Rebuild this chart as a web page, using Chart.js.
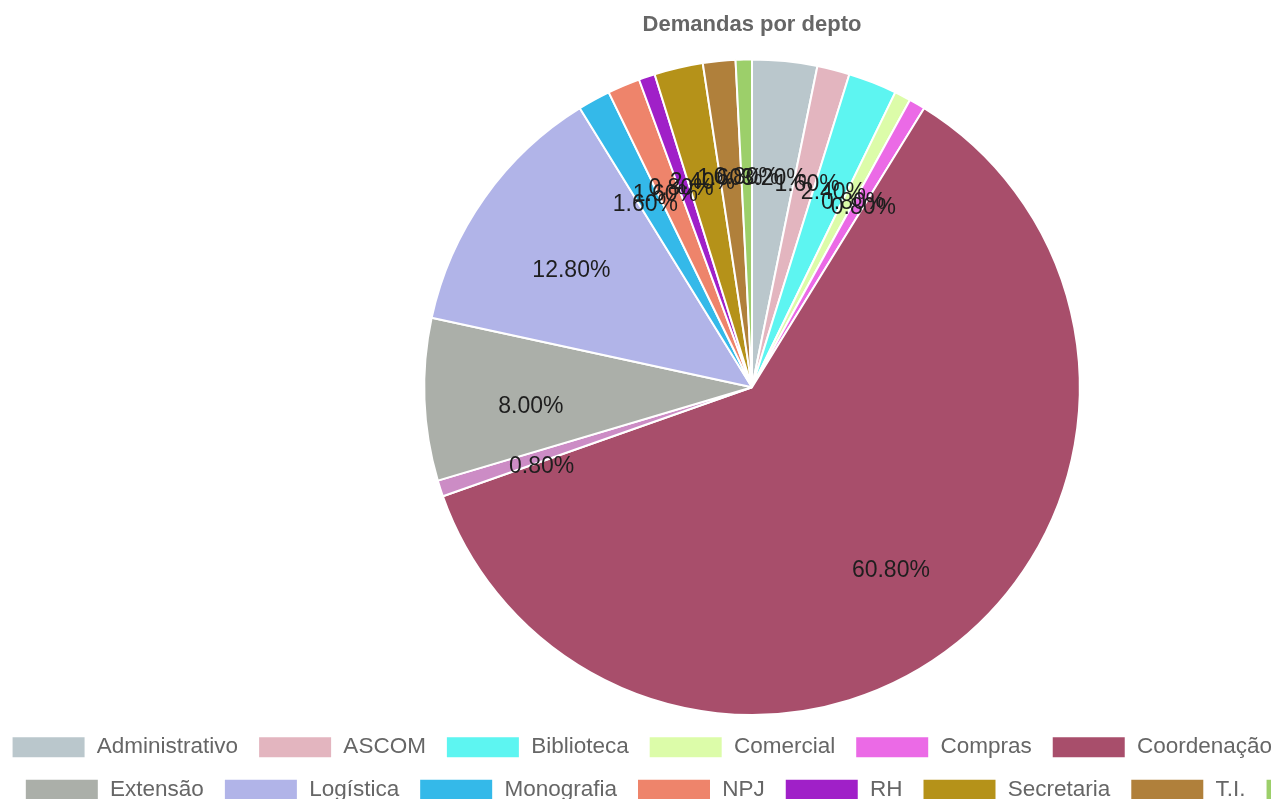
<!DOCTYPE html>
<html>
<head>
<meta charset="utf-8">
<script src="https://cdn.jsdelivr.net/npm/chart.js"></script>
<style>
body {
	margin: 0;
	background: #fff;
	overflow: hidden;
}
.card1 {
	position: relative;
	width: 1544px;
	height: 811px;
	margin-left: -20px;
}
</style>
</head>
<body>
<div class="card1">
<canvas id="depto_graph"></canvas>
</div>
<script>
var labels = ["Administrativo", "ASCOM", "Biblioteca", "Comercial", "Compras", "Coordenação", "Engenharia", "Extensão", "Logística", "Monografia", "NPJ", "RH", "Secretaria", "T.I.", "Vice-Reitoria"];
var demandas = [4, 2, 3, 1, 1, 76, 1, 10, 16, 2, 2, 1, 3, 2, 1];
var cores = ["#bac7cc", "#e3b5bf", "#5df5f1", "#dcfca9", "#eb6ae6", "#a84e6b", "#cc8cc5", "#abafa9", "#b1b4e8", "#34b9e9", "#ee846b", "#a020c8", "#b59219", "#b0803b", "#9ccf6a"];

// percent labels inside slices
var percentLabels = {
	id: 'percentLabels',
	afterDatasetsDraw: function(chart) {
		var ctx = chart.ctx;
		var meta = chart.getDatasetMeta(0);
		var total = demandas.reduce(function(a, b) { return a + b; }, 0);
		ctx.save();
		ctx.font = "23px 'Liberation Sans', Arial, sans-serif";
		ctx.fillStyle = "#1e1e1e";
		ctx.textAlign = "center";
		ctx.textBaseline = "top";
		meta.data.forEach(function(arc, i) {
			var p = arc.getProps(['x', 'y', 'startAngle', 'endAngle', 'outerRadius'], true);
			var mid = (p.startAngle + p.endAngle) / 2;
			var r = p.outerRadius * 0.675;
			var txt = (demandas[i] / total * 100).toFixed(2) + "%";
			ctx.fillText(txt, p.x + Math.cos(mid) * r, p.y + Math.sin(mid) * r);
		});
		ctx.restore();
	}
};

var ctx = document.getElementById('depto_graph').getContext('2d');
var chart = new Chart(ctx, {
	type: 'pie',
	data: {
		labels: labels,
		datasets: [{
			label: "Demandas",
			data: demandas,
			backgroundColor: cores,
			borderColor: "#fff",
			borderWidth: 2
		}]
	},
	options: {
		responsive: true,
		maintainAspectRatio: false,
		animation: false,
		plugins: {
			title: {
				display: true,
				text: "Demandas por depto",
				color: "#666",
				font: { family: "'Liberation Sans', Arial, sans-serif", size: 22, weight: 'bold' },
				padding: { top: 12, bottom: 20 }
			},
			legend: {
				display: true,
				position: "bottom",
				labels: {
					boxWidth: 74,
					boxHeight: 22,
					padding: 20,
					color: "#666",
					font: { family: "'Liberation Sans', Arial, sans-serif", size: 22.5 }
				}
			},
			tooltip: { enabled: false }
		}
	},
	plugins: [percentLabels]
});
</script>
</body>
</html>
